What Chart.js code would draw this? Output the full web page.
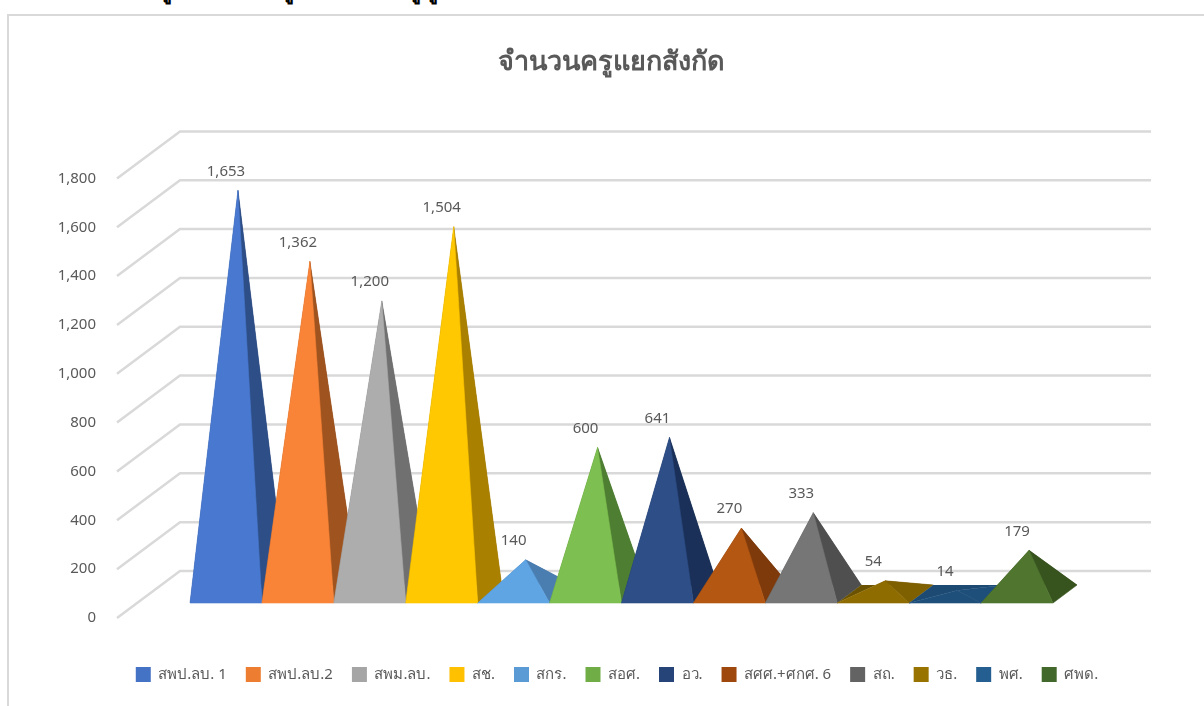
<!DOCTYPE html>
<html>
<head>
<meta charset="utf-8">
<script src="https://cdn.jsdelivr.net/npm/chart.js@4"></script>
<style>
body { margin: 0; background: #fff; overflow: hidden; }
#frame { position: absolute; left: 7px; top: 14px; width: 1200px; height: 700px; border: 2px solid #d9d9d9; }
#chart { position: absolute; left: 0; top: 0; }
/* heading of the page above the chart, cut off by the top of the screenshot */
.cut { position: absolute; top: -27px; font: bold 22px "Noto Sans", sans-serif; color: #000; white-space: nowrap; }
</style>
</head>
<body>
<span class="cut" style="left:160px">รู</span>
<span class="cut" style="left:282px">รู</span>
<span class="cut" style="left:409px">รู</span>
<span class="cut" style="left:426px">รู</span>
<div id="frame"></div>
<canvas id="chart" width="1204" height="706"></canvas>
<script>
const seriesNames = ['สพป.ลบ. 1', 'สพป.ลบ.2', 'สพม.ลบ.', 'สช.', 'สกร.', 'สอศ.', 'อว.', 'สศศ.+ศกศ. 6', 'สถ.', 'วธ.', 'พศ.', 'ศพด.'];
const seriesValues = [1653, 1362, 1200, 1504, 140, 600, 641, 270, 333, 54, 14, 179];
const legendColors = ['#4472C4', '#ED7D31', '#A5A5A5', '#FFC000', '#5B9BD5', '#70AD47', '#264478', '#9E480E', '#636363', '#997300', '#255E91', '#43682B'];
const frontColors = ['#4878CF', '#F98438', '#ADADAD', '#FFC800', '#5FA5E3', '#7DBF50', '#2E4E87', '#B35712', '#767676', '#8F6C00', '#1E4F7B', '#4F752F'];
const sideColors = ['#2D4E87', '#9F531E', '#707070', '#AA8000', '#4A7EB1', '#4E7E31', '#1A3058', '#7F3A0B', '#4F4F4F', '#7F6000', '#1E4F7B', '#37541F'];
const backColors = ['#233D6B', '#7F4218', '#5A5A5A', '#886600', '#3B658D', '#3E6427', '#142546', '#652E09', '#3F3F3F', '#6B5200', '#1C4A72', '#2C4319'];
const maxValue = 1800;
const tickStep = 200;

const textGrey = '#595959';
const font = '"Noto Sans", sans-serif';

// fake 3D: offsets from the front plane of the chart
const wall = { dx: 63, dy: -47 };
const barFront = { dx: 20, dy: -15 };
const barDepth = { dx: 24, dy: -18 };

function poly(ctx, pts, color, seam) {
    ctx.fillStyle = color;
    ctx.beginPath();
    pts.forEach((p, i) => i ? ctx.lineTo(p[0], p[1]) : ctx.moveTo(p[0], p[1]));
    ctx.closePath();
    ctx.fill();
    if (seam) {
        ctx.strokeStyle = color;
        ctx.lineWidth = 0.6; // closes the hairline between faces
        ctx.stroke();
    }
}

const pyramid3d = {
    id: 'pyramid3d',
    afterLayout(chart) {
        // legend sits a little right of the title in the reference
        chart.legend.left += 6;
        chart.legend.right += 6;
    },
    beforeDatasetsDraw(chart) {
        const ctx = chart.ctx;
        const yScale = chart.scales.y;
        const area = chart.chartArea;

        // gridlines: short diagonal on the side wall, long line on the back wall
        ctx.save();
        ctx.strokeStyle = '#d9d9d9';
        ctx.lineWidth = 2.5;
        for (let v = 0; v <= maxValue; v += tickStep) {
            const y = yScale.getPixelForValue(v);
            ctx.beginPath();
            ctx.moveTo(area.left, y);
            ctx.lineTo(area.left + wall.dx, y + wall.dy);
            ctx.lineTo(area.right + wall.dx + 2, y + wall.dy);
            ctx.stroke();
        }
        ctx.restore();

        // pyramids, left to right so later ones cover earlier ones
        const base = yScale.getPixelForValue(0);
        chart.data.datasets.forEach((ds, i) => {
            const bar = chart.getDatasetMeta(i).data[0];
            const x0 = bar.x - bar.width / 2 + barFront.dx;
            const x1 = bar.x + bar.width / 2 + barFront.dx;
            const yF = base + barFront.dy;
            const yB = yF + barDepth.dy;
            const apex = [
                bar.x + barFront.dx + barDepth.dx / 2,
                yScale.getPixelForValue(ds.data[0]) + barFront.dy + barDepth.dy / 2
            ];
            const fl = [x0, yF], fr = [x1, yF];
            const bl = [x0 + barDepth.dx, yB], br = [x1 + barDepth.dx, yB];
            poly(ctx, [fl, bl, br, apex], backColors[i], false); // left + back as one shape
            poly(ctx, [fr, br, apex], sideColors[i], true);
            poly(ctx, [fl, fr, apex], frontColors[i], true);
        });

        // value labels go on top of everything
        ctx.save();
        ctx.fillStyle = textGrey;
        ctx.font = '15px ' + font;
        ctx.textAlign = 'center';
        ctx.textBaseline = 'middle';
        chart.data.datasets.forEach((ds, i) => {
            const bar = chart.getDatasetMeta(i).data[0];
            const apexY = yScale.getPixelForValue(ds.data[0]) + barFront.dy + barDepth.dy / 2;
            ctx.fillText(ds.data[0].toLocaleString('en-US'), bar.x + barFront.dx, apexY - 19);
        });
        ctx.restore();
        return false;
    }
};

new Chart(document.getElementById('chart'), {
    type: 'bar',
    data: {
        labels: ['จำนวนครู'],
        datasets: seriesNames.map((name, i) => ({
            label: name,
            data: [seriesValues[i]],
            backgroundColor: legendColors[i]
        }))
    },
    options: {
        responsive: false,
        animation: false,
        layout: { padding: { left: 18, bottom: 14 } },
        datasets: { bar: { barPercentage: 1, categoryPercentage: 0.8906 } },
        scales: {
            x: {
                grid: { display: false },
                border: { display: false },
                ticks: { display: false },
                afterFit: s => { s.height = 30; }
            },
            y: {
                min: 0,
                max: maxValue,
                grid: { display: false },
                border: { display: false },
                ticks: {
                    stepSize: tickStep,
                    padding: 13,
                    color: textGrey,
                    font: { family: font, size: 15 },
                    callback: v => v.toLocaleString('en-US')
                },
                afterFit: s => { s.width = 99; }
            },
            // only here to hold the plot in from the right edge
            yRight: {
                position: 'right',
                grid: { display: false },
                border: { display: false },
                ticks: { display: false },
                afterFit: s => { s.width = 118; }
            }
        },
        plugins: {
            title: {
                display: true,
                text: 'จำนวนครูแยกสังกัด',
                color: textGrey,
                font: { family: font, size: 27, weight: 'bold' },
                padding: { top: 46, bottom: 100 }
            },
            legend: {
                position: 'bottom',
                labels: {
                    boxWidth: 15,
                    boxHeight: 15,
                    padding: 19,
                    color: textGrey,
                    font: { family: font, size: 15 }
                }
            },
            tooltip: { enabled: false }
        }
    },
    plugins: [pyramid3d]
});
</script>
</body>
</html>
